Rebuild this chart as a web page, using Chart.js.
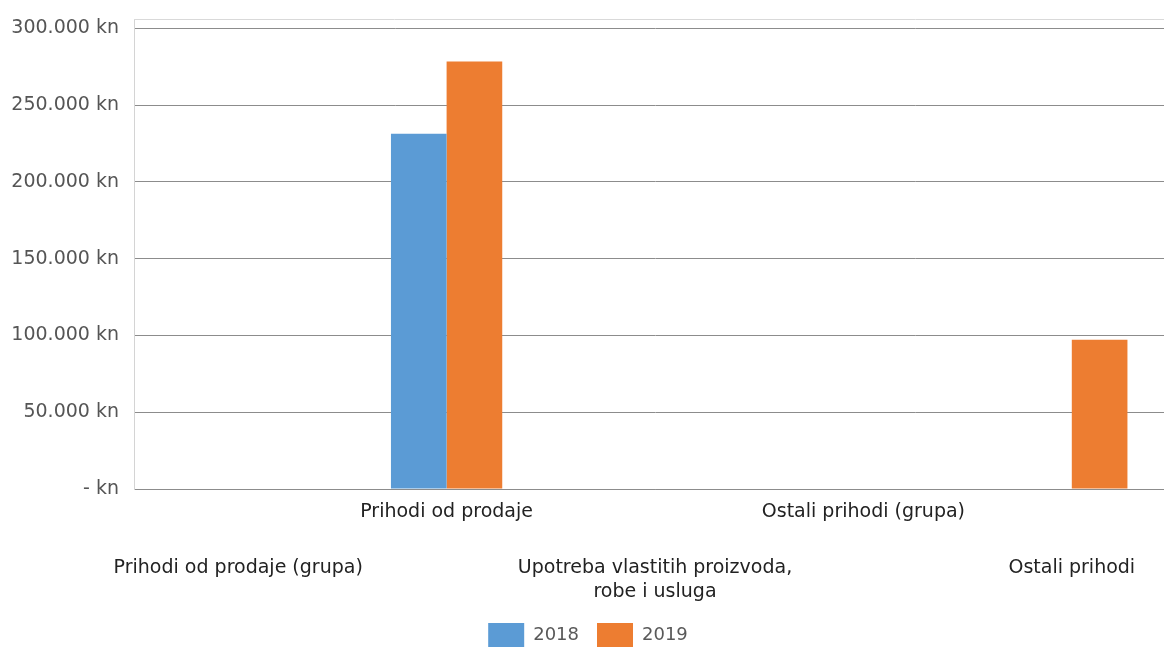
<!DOCTYPE html>
<html>
<head>
<meta charset="utf-8">
<script src="https://cdn.jsdelivr.net/npm/chart.js@4"></script>
<style>
  html, body { margin: 0; padding: 0; background: #fff; overflow: hidden; }
  #wrap { position: absolute; left: 0; top: 0; }
</style>
</head>
<body>
<div id="wrap"><canvas id="chart" width="1176" height="657"></canvas></div>
<script>
/* ── Data ── */
const categories = [
  'Prihodi od prodaje (grupa)',
  'Prihodi od prodaje',
  ['Upotreba vlastitih proizvoda,', 'robe i usluga'],
  'Ostali prihodi (grupa)',
  'Ostali prihodi'
];
const seriesNames = ['2018', '2019'];
const values2018 = [0, 231300, 0, 0, 0];
const values2019 = [0, 278300, 0, 0, 97100];
const yTicks = [0, 50000, 100000, 150000, 200000, 250000, 300000];

const FONT = 'DejaVu Sans';

function formatKn(v) {
  if (v === 0) return '- kn';
  return String(v).replace(/\B(?=(\d{3})+(?!\d))/g, '.') + ' kn';
}

/* ── Light frame line on top of the plot ── */
const topFrame = {
  id: 'topFrame',
  beforeDatasetsDraw(chart) {
    const { ctx, chartArea } = chart;
    ctx.save();
    ctx.strokeStyle = '#d9d9d9';
    ctx.lineWidth = 1;
    ctx.beginPath();
    ctx.moveTo(chartArea.left, chartArea.top + 0.5);
    ctx.lineTo(chartArea.right, chartArea.top + 0.5);
    ctx.stroke();
    ctx.restore();
  }
};

new Chart(document.getElementById('chart'), {
  type: 'bar',
  data: {
    labels: categories,
    datasets: [
      { label: seriesNames[0], data: values2018, backgroundColor: '#5b9bd5', borderWidth: 0 },
      { label: seriesNames[1], data: values2019, backgroundColor: '#ed7d31', borderWidth: 0 }
    ]
  },
  options: {
    responsive: false,
    animation: false,
    layout: { padding: { top: 19, left: 0, right: 0, bottom: 0 } },
    datasets: { bar: { categoryPercentage: 0.534, barPercentage: 1 } },
    plugins: {
      tooltip: { enabled: false },
      legend: {
        position: 'bottom',
        labels: {
          boxWidth: 36,
          boxHeight: 24,
          padding: 18,
          color: '#595959',
          font: { family: FONT, size: 18 }
        }
      }
    },
    scales: {
      x: {
        grid: { display: false, drawTicks: false, tickLength: 0 },
        border: { display: true, color: '#8c8c8c' },
        afterFit: s => { s.height = 116; },
        ticks: {
          autoSkip: false,
          maxRotation: 0,
          minRotation: 0,
          padding: 19,
          color: '#222',
          font: ctx => ({ family: FONT, size: 19, lineHeight: ctx.index % 2 ? '8px' : '24px' }),
          callback: function (value, index) {
            const lab = this.getLabelForValue(value);
            const lines = Array.isArray(lab) ? lab : [lab];
            return index % 2 ? lines : ['', ''].concat(lines);
          }
        }
      },
      y: {
        min: 0,
        max: 306000,
        afterBuildTicks: s => { s.ticks = yTicks.map(v => ({ value: v })); },
        afterFit: s => { s.width = 134; s.paddingTop = 0; s.paddingBottom = 0; },
        grid: { color: '#8c8c8c', drawTicks: false, tickLength: 0 },
        border: { display: true, color: '#d4d4d4' },
        ticks: {
          padding: 15,
          color: '#555',
          font: { family: FONT, size: 19 },
          callback: v => formatKn(v)
        }
      }
    }
  },
  plugins: [topFrame]
});
</script>
</body>
</html>
